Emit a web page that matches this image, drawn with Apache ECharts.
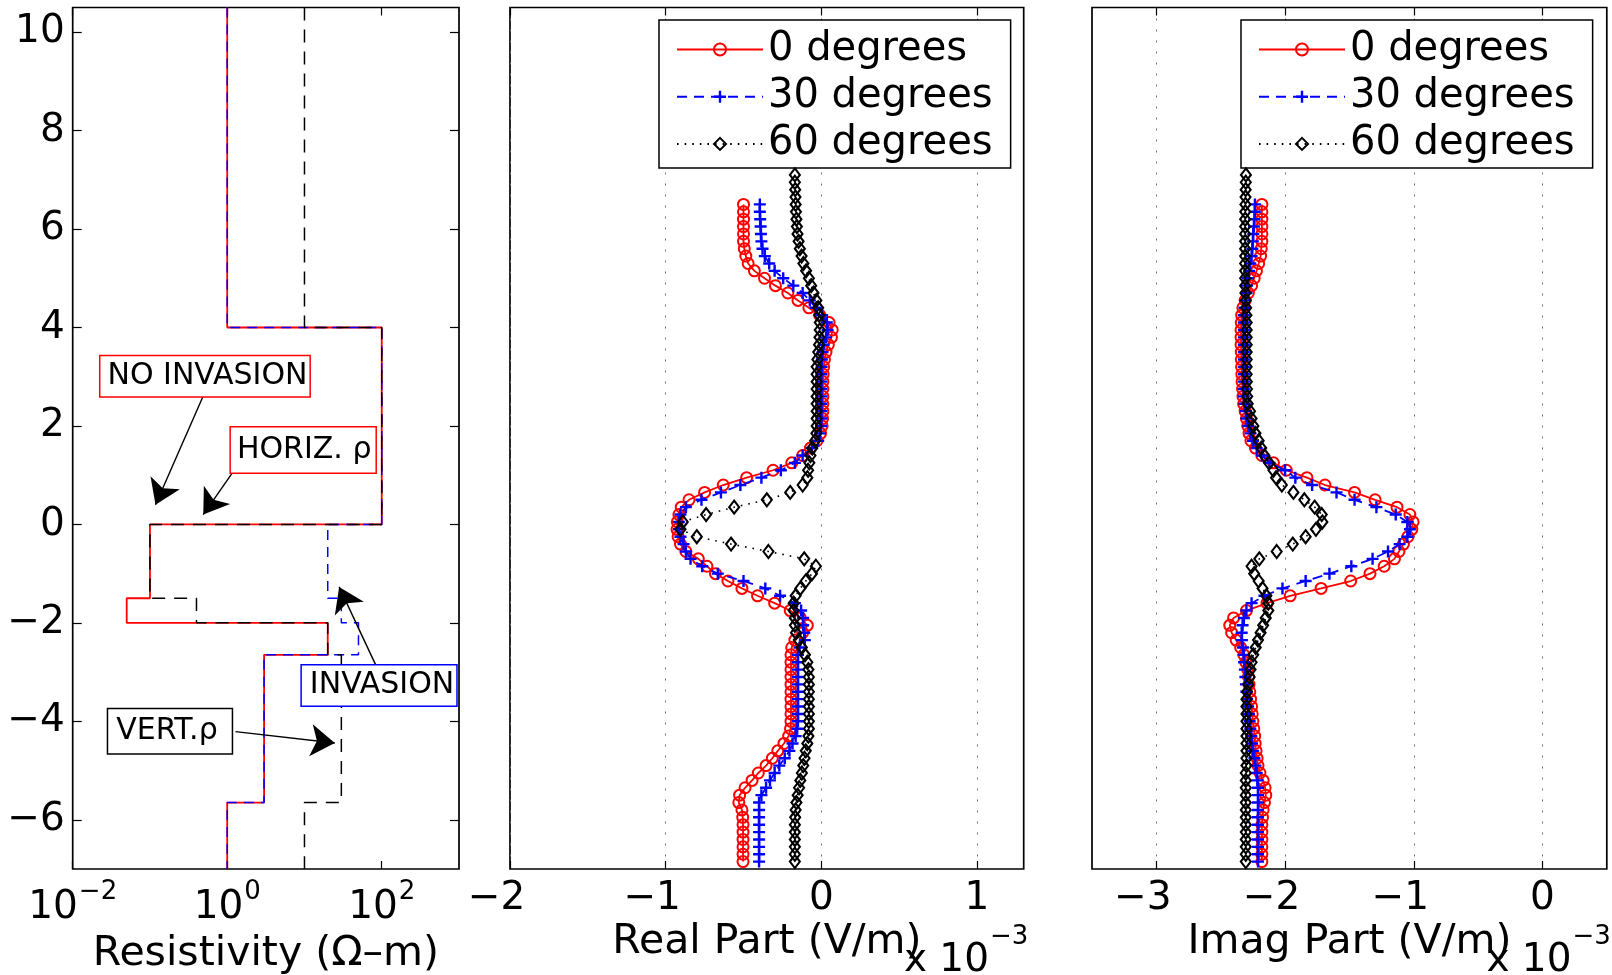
<!DOCTYPE html>
<html>
<head>
<meta charset="utf-8">
<script src="https://cdn.jsdelivr.net/npm/echarts@6/dist/echarts.min.js"></script>
<style>
html, body { margin: 0; padding: 0; background: #fff; }
#chart { width: 1612px; height: 975px; }
</style>
</head>
<body>
<div id="chart"></div>
<script>
// ---- Formation model: layer boundaries (depth) and resistivities (ohm-m) ----
const layerBounds = [10.5, 4, 0, -1.5, -2, -2.65, -5.65, -7];
const rhoHorizNoInvasion = [1, 100, 0.1, 0.05, 20, 3, 1];
const rhoHorizInvasion = [1, 100, 20, 30, 50, 3, 1];
const rhoVertical = [10, 100, 0.1, 0.4, 20, 30, 10];

// ---- Tool positions (depth) shared by all field profiles ----
const toolDepth = [
  7.1, 6.95, 6.8, 6.65, 6.5, 6.35, 6.2, 6.05, 5.9, 5.75,
  5.6, 5.45, 5.3, 5.15, 5.0, 4.85, 4.7, 4.55, 4.4, 4.25,
  4.1, 3.95, 3.8, 3.65, 3.5, 3.35, 3.2, 3.05, 2.9, 2.75,
  2.6, 2.45, 2.3, 2.15, 2.0, 1.85, 1.7, 1.55, 1.4, 1.25,
  1.1, 0.95, 0.8, 0.65, 0.5, 0.35, 0.2, 0.05, -0.1, -0.25,
  -0.4, -0.55, -0.7, -0.85, -1.0, -1.15, -1.3, -1.45, -1.6, -1.75,
  -1.9, -2.05, -2.2, -2.35, -2.5, -2.65, -2.8, -2.95, -3.1, -3.25,
  -3.4, -3.55, -3.7, -3.85, -4.0, -4.15, -4.3, -4.45, -4.6, -4.75,
  -4.9, -5.05, -5.2, -5.35, -5.5, -5.65, -5.8, -5.95, -6.1, -6.25,
  -6.4, -6.55, -6.7, -6.85
];

// ---- Real part of the field (x 1e-3 V/m) ----
const real0 = [
  null, null, null, null, -0.50, -0.50, -0.50, -0.50, -0.50, -0.50,
  -0.495, -0.485, -0.47, -0.43, -0.365, -0.295, -0.215, -0.15, -0.08, -0.01,
  0.05, 0.07, 0.065, 0.045, 0.03, 0.02, 0.015, 0.012, 0.01, 0.01,
  0.01, 0.01, 0.01, 0.008, 0.005, -0.005, -0.028, -0.07, -0.12, -0.19,
  -0.31, -0.48, -0.63, -0.75, -0.85, -0.90, -0.915, -0.925, -0.927, -0.92,
  -0.905, -0.87, -0.79, -0.735, -0.68, -0.60, -0.51, -0.41, -0.30, -0.20,
  -0.135, -0.09, -0.12, -0.17, -0.19, -0.195, -0.195, -0.195, -0.195, -0.195,
  -0.195, -0.195, -0.195, -0.195, -0.195, -0.198, -0.21, -0.24, -0.28, -0.315,
  -0.355, -0.405, -0.445, -0.49, -0.525, -0.53, -0.51, -0.505, -0.503, -0.503,
  -0.503, -0.503, -0.503, -0.503
];
const real30 = [
  null, null, null, null, -0.395, -0.395, -0.393, -0.39, -0.388, -0.385,
  -0.378, -0.363, -0.335, -0.30, -0.245, -0.18, -0.12, -0.074, -0.035, 0.005,
  0.035, 0.04, 0.03, 0.015, 0.008, 0.003, 0.002, 0.0, 0.0, 0.0,
  0.0, 0.0, 0.0, 0.0, -0.002, -0.008, -0.02, -0.06, -0.12, -0.17,
  -0.26, -0.385, -0.52, -0.645, -0.77, -0.87, -0.905, -0.915, -0.915, -0.905,
  -0.885, -0.87, -0.84, -0.765, -0.665, -0.50, -0.36, -0.265, -0.17, -0.13,
  -0.117, -0.117, -0.11, -0.106, -0.14, -0.15, -0.15, -0.15, -0.15, -0.15,
  -0.15, -0.15, -0.15, -0.15, -0.15, -0.155, -0.165, -0.185, -0.205, -0.235,
  -0.27, -0.30, -0.33, -0.355, -0.385, -0.40, -0.40, -0.40, -0.40, -0.40,
  -0.40, -0.40, -0.40, -0.40
];
const real60 = [
  -0.17, -0.17, -0.168, -0.166, -0.165, -0.163, -0.16, -0.157, -0.153, -0.146,
  -0.138, -0.127, -0.115, -0.098, -0.08, -0.065, -0.05, -0.032, -0.02, -0.014,
  -0.01, -0.01, -0.012, -0.015, -0.02, -0.025, -0.03, -0.03, -0.03, -0.03,
  -0.03, -0.03, -0.03, -0.03, -0.03, -0.032, -0.04, -0.058, -0.07, -0.077,
  -0.085, -0.09, -0.12, -0.20, -0.35, -0.56, -0.74, -0.89, -0.905, -0.80,
  -0.58, -0.34, -0.11, -0.035, -0.06, -0.10, -0.135, -0.165, -0.178, -0.178,
  -0.17, -0.17, -0.163, -0.145, -0.125, -0.105, -0.09, -0.083, -0.08, -0.08,
  -0.08, -0.08, -0.08, -0.08, -0.08, -0.08, -0.083, -0.09, -0.10, -0.108,
  -0.116, -0.125, -0.135, -0.143, -0.152, -0.16, -0.165, -0.168, -0.17, -0.17,
  -0.17, -0.17, -0.17, -0.17
];

// ---- Imaginary part of the field (x 1e-3 V/m) ----
const imag0 = [
  null, null, null, null, -2.18, -2.18, -2.18, -2.18, -2.18, -2.18,
  -2.185, -2.19, -2.205, -2.222, -2.24, -2.26, -2.285, -2.31, -2.328, -2.337,
  -2.34, -2.342, -2.342, -2.342, -2.34, -2.34, -2.338, -2.336, -2.334, -2.33,
  -2.327, -2.322, -2.31, -2.30, -2.29, -2.28, -2.265, -2.23, -2.18, -2.09,
  -1.99, -1.83, -1.69, -1.46, -1.30, -1.13, -1.03, -1.005, -1.015, -1.045,
  -1.08, -1.115, -1.15, -1.23, -1.34, -1.49, -1.72, -1.96, -2.14, -2.30,
  -2.40, -2.43, -2.415, -2.38, -2.345, -2.32, -2.305, -2.29, -2.284, -2.28,
  -2.274, -2.268, -2.26, -2.255, -2.25, -2.243, -2.236, -2.232, -2.225, -2.217,
  -2.21, -2.195, -2.17, -2.155, -2.15, -2.16, -2.17, -2.175, -2.18, -2.18,
  -2.18, -2.18, -2.18, -2.18
];
const imag30 = [
  null, null, null, null, -2.234, -2.235, -2.238, -2.242, -2.247, -2.25,
  -2.254, -2.26, -2.27, -2.28, -2.288, -2.295, -2.30, -2.31, -2.315, -2.32,
  -2.32, -2.32, -2.32, -2.32, -2.32, -2.32, -2.32, -2.32, -2.32, -2.32,
  -2.32, -2.315, -2.305, -2.30, -2.285, -2.268, -2.25, -2.22, -2.18, -2.12,
  -2.00, -1.92, -1.79, -1.60, -1.46, -1.29, -1.14, -1.05, -1.03, -1.05,
  -1.11, -1.20, -1.32, -1.485, -1.655, -1.84, -2.02, -2.16, -2.26, -2.30,
  -2.32, -2.33, -2.337, -2.335, -2.327, -2.322, -2.318, -2.312, -2.308, -2.304,
  -2.30, -2.295, -2.287, -2.28, -2.275, -2.27, -2.262, -2.256, -2.248, -2.238,
  -2.23, -2.22, -2.215, -2.21, -2.21, -2.21, -2.21, -2.21, -2.21, -2.21,
  -2.21, -2.21, -2.21, -2.21
];
const imag60 = [
  -2.304, -2.305, -2.306, -2.307, -2.308, -2.309, -2.31, -2.31, -2.31, -2.31,
  -2.31, -2.31, -2.31, -2.31, -2.31, -2.31, -2.308, -2.305, -2.302, -2.30,
  -2.298, -2.298, -2.298, -2.298, -2.298, -2.298, -2.298, -2.298, -2.297, -2.296,
  -2.294, -2.29, -2.272, -2.26, -2.246, -2.23, -2.205, -2.185, -2.16, -2.125,
  -2.09, -2.07, -2.025, -1.935, -1.85, -1.77, -1.715, -1.71, -1.76, -1.84,
  -1.94, -2.065, -2.20, -2.26, -2.24, -2.205, -2.175, -2.145, -2.13, -2.13,
  -2.15, -2.17, -2.19, -2.21, -2.228, -2.247, -2.26, -2.268, -2.275, -2.285,
  -2.295, -2.30, -2.30, -2.30, -2.30, -2.30, -2.30, -2.30, -2.30, -2.30,
  -2.30, -2.305, -2.305, -2.305, -2.305, -2.305, -2.305, -2.305, -2.305, -2.305,
  -2.305, -2.305, -2.305, -2.305
];

// ---- Names and tick labels ----
const seriesNames = ['0 degrees', '30 degrees', '60 degrees'];
const depthTicks = [-6, -4, -2, 0, 2, 4, 6, 8, 10];
const rhoTickExponents = [-2, 0, 2];
const realTicks = [-2, -1, 0, 1];
const imagTicks = [-3, -2, -1, 0];

// ---- Drawing ----
const FONT = 'DejaVu Sans';
const INK = '#000';
const RED = '#ff0000';
const BLUE = '#0000ff';
const TICK_FONT = 39;
const TITLE_FONT = 41;

// build a stepped depth profile from layer resistivities
function staircase(rhos) {
  const pts = [];
  rhos.forEach(function (r, i) {
    pts.push([r, layerBounds[i]]);
    pts.push([r, layerBounds[i + 1]]);
  });
  return pts;
}

// pair field values with tool depth, skipping positions without a reading
function profile(values) {
  const pts = [];
  values.forEach(function (v, i) {
    if (v !== null) pts.push([v, toolDepth[i]]);
  });
  return pts;
}

const signed = function (v) { return String(v).replace('-', '\u2212'); };
// negative numbers keep a little room on the right so the digit sits near the tick
const fieldLabel = function (v) {
  return v < 0 ? '{n|' + signed(v) + '}' : '{p|' + v + '}';
};
const fieldRich = {
  n: { fontSize: TICK_FONT, fontFamily: FONT, color: INK, padding: [0, 27, 0, 0] },
  p: { fontSize: TICK_FONT, fontFamily: FONT, color: INK }
};
const powerLabel = function (e) {
  return '{b|10}{s|' + (e < 0 ? '\u2212' : '') + Math.abs(e) + '}';
};
const powRich = {
  b: { fontSize: TICK_FONT, fontFamily: FONT, color: INK, lineHeight: 40 },
  s: { fontSize: 26, fontFamily: FONT, color: INK, lineHeight: 26, padding: [0, 0, 32, 1] }
};
const tickLine = { color: INK, width: 1.2 };
const labelStyle = { fontSize: TICK_FONT, fontFamily: FONT, color: INK };
const titleStyle = { fontSize: TITLE_FONT, fontFamily: FONT, color: INK };
const gridDots = { color: '#707070', width: 1, type: [2, 9] };
const noLine = { show: false, onZero: false };

function gridBox(left, width) {
  return {
    left: left, top: 7.5, width: width, height: 861.5,
    show: true, borderColor: INK, borderWidth: 1.7, backgroundColor: '#fff',
    containLabel: false, outerBoundsMode: 'none'
  };
}

function tickAxis(gridIndex, position, min, max, ticks, len) {
  return {
    type: 'value', gridIndex: gridIndex, position: position, min: min, max: max,
    axisLine: noLine, splitLine: { show: false }, axisLabel: { show: false },
    axisTick: { show: true, inside: true, length: len, customValues: ticks, lineStyle: tickLine }
  };
}

const annotations = [
  { text: 'NO INVASION', color: RED, box: [0.515, 3.01], pad: [4, 2, 4, 7],
    from: [0.515, 2.69], to: [0.118, 0.4] },
  { text: 'HORIZ. \u03C1', color: RED, box: [9.62, 1.51], pad: [6, 4, 7, 6],
    from: [1.32, 1.17], to: [0.49, 0.2] },
  { text: 'INVASION', color: BLUE, box: [92.3, -3.27], pad: [4, 2, 4, 8],
    from: [89.8, -2.96], to: [28.1, -1.27] },
  { text: 'VERT.\u03C1', color: INK, box: [0.1815, -4.2], pad: [6, 14, 6, 8],
    from: [1.28, -4.21], to: [24.7, -4.44] }
];

const markPointData = annotations.map(function (a) {
  return {
    coord: a.box, symbol: 'rect', symbolSize: 1, itemStyle: { color: 'rgba(0,0,0,0)' },
    label: {
      show: true, position: 'inside', formatter: a.text, color: INK,
      fontSize: 30, fontFamily: FONT, lineHeight: 32,
      backgroundColor: '#fff', borderColor: a.color, borderWidth: 1.5, padding: a.pad
    }
  };
});
const markLineData = annotations.map(function (a) {
  return [{ coord: a.from }, { coord: a.to }];
});

const plusSymbol = 'path://M4,0H6V4H10V6H6V10H4V6H0V4H4Z';
const fieldStyles = [
  { symbol: 'circle', symbolSize: 11,
    itemStyle: { color: 'rgba(255,0,0,0)', borderColor: RED, borderWidth: 2 },
    lineStyle: { color: RED, width: 1.8, type: 'solid' } },
  { symbol: plusSymbol, symbolSize: 12,
    itemStyle: { color: BLUE, borderWidth: 0 },
    lineStyle: { color: BLUE, width: 1.8, type: [10, 7] } },
  { symbol: 'diamond', symbolSize: [10, 13],
    itemStyle: { color: 'rgba(0,0,0,0)', borderColor: INK, borderWidth: 2.1 },
    lineStyle: { color: INK, width: 1.6, type: [1.6, 6] } }
];

function fieldSeries(k, values, xAxisIndex, yAxisIndex) {
  const st = fieldStyles[k];
  return {
    type: 'line', name: seriesNames[k], xAxisIndex: xAxisIndex, yAxisIndex: yAxisIndex,
    data: profile(values), symbol: st.symbol, symbolSize: st.symbolSize,
    showAllSymbol: true, itemStyle: st.itemStyle, lineStyle: st.lineStyle,
    emphasis: { disabled: true }, silent: true, z: 3 + k
  };
}

function legendAt(left) {
  return {
    data: seriesNames, orient: 'vertical', left: left, top: 20,
    padding: [9.5, 18, 4, 17], itemGap: 7.2, itemWidth: 86, itemHeight: 15,
    backgroundColor: '#fff', borderColor: INK, borderWidth: 1.5, borderRadius: 0,
    selectedMode: false, textStyle: { fontSize: 40, fontFamily: FONT, color: INK }
  };
}

function valueBottomAxis(gridIndex, min, max, ticks, title) {
  return {
    type: 'value', gridIndex: gridIndex, position: 'bottom', min: min, max: max,
    axisLine: noLine,
    axisTick: { show: true, inside: true, length: 8, customValues: ticks, lineStyle: tickLine },
    axisLabel: { customValues: ticks, margin: 10, formatter: fieldLabel, rich: fieldRich },
    splitLine: { show: true, lineStyle: gridDots },
    name: title, nameLocation: 'middle', nameGap: 53,
    nameMoveOverlap: false, nameTextStyle: titleStyle
  };
}

const option = {
  animation: false,
  backgroundColor: '#fff',
  textStyle: { fontFamily: FONT },
  grid: [gridBox(72.7, 386.3), gridBox(510, 513.7), gridBox(1092, 514.8)],
  xAxis: [
    // resistivity scale carrying the model profiles
    { type: 'log', logBase: 10, gridIndex: 0, min: 0.01, max: 1000, show: false, axisLine: noLine },
    // decade exponents for the resistivity ticks and labels
    {
      type: 'value', gridIndex: 0, position: 'bottom', min: -2, max: 3,
      axisLine: noLine, splitLine: { show: false },
      axisTick: { show: true, inside: true, length: 8, customValues: rhoTickExponents, lineStyle: tickLine },
      axisLabel: { customValues: rhoTickExponents, margin: 19, formatter: powerLabel, rich: powRich },
      name: 'Resistivity (\u03A9\u2013m)', nameLocation: 'middle', nameGap: 65,
      nameMoveOverlap: false, nameTextStyle: titleStyle
    },
    tickAxis(0, 'top', -2, 3, rhoTickExponents, 8),
    valueBottomAxis(1, -2, 1.3, realTicks, 'Real Part (V/m)'),
    tickAxis(1, 'top', -2, 1.3, realTicks, 8),
    valueBottomAxis(2, -3.5, 0.5, imagTicks, 'Imag Part (V/m)'),
    tickAxis(2, 'top', -3.5, 0.5, imagTicks, 8)
  ],
  yAxis: [
    {
      type: 'value', gridIndex: 0, position: 'left', min: -7, max: 10.5,
      axisLine: noLine, splitLine: { show: false },
      axisTick: { show: true, inside: true, length: 9, customValues: depthTicks, lineStyle: tickLine },
      axisLabel: Object.assign({ customValues: depthTicks, margin: 8, formatter: signed }, labelStyle)
    },
    tickAxis(0, 'right', -7, 10.5, depthTicks, 9),
    { type: 'value', gridIndex: 1, min: -7, max: 10.5, show: false, axisLine: noLine },
    { type: 'value', gridIndex: 2, min: -7, max: 10.5, show: false, axisLine: noLine }
  ],
  legend: [legendAt(659), legendAt(1241)],
  graphic: [
    { type: 'text', x: 989, y: 941, silent: true,
      style: { text: 'x 10', fontSize: TICK_FONT, fontFamily: FONT, fill: INK, align: 'right', verticalAlign: 'top' } },
    { type: 'text', x: 990, y: 924, silent: true,
      style: { text: '\u22123', fontSize: 26, fontFamily: FONT, fill: INK, align: 'left', verticalAlign: 'top' } },
    { type: 'text', x: 1571.5, y: 941, silent: true,
      style: { text: 'x 10', fontSize: TICK_FONT, fontFamily: FONT, fill: INK, align: 'right', verticalAlign: 'top' } },
    { type: 'text', x: 1572.5, y: 924, silent: true,
      style: { text: '\u22123', fontSize: 26, fontFamily: FONT, fill: INK, align: 'left', verticalAlign: 'top' } }
  ],
  series: [
    {
      type: 'line', name: 'horizontal, no invasion', xAxisIndex: 0, yAxisIndex: 0,
      data: staircase(rhoHorizNoInvasion), symbol: 'none',
      lineStyle: { color: RED, width: 1.8 }, emphasis: { disabled: true }, silent: true, z: 2,
      markPoint: { silent: true, animation: false, data: markPointData, z: 10 },
      markLine: {
        silent: true, animation: false, symbol: ['none', 'arrow'], symbolSize: 24,
        lineStyle: { color: INK, width: 1.4, type: 'solid' }, label: { show: false },
        emphasis: { disabled: true }, data: markLineData, z: 9
      }
    },
    {
      type: 'line', name: 'horizontal, invasion', xAxisIndex: 0, yAxisIndex: 0,
      data: staircase(rhoHorizInvasion), symbol: 'none',
      lineStyle: { color: BLUE, width: 1.5, type: [10, 7] }, emphasis: { disabled: true }, silent: true, z: 3
    },
    {
      type: 'line', name: 'vertical', xAxisIndex: 0, yAxisIndex: 0,
      data: staircase(rhoVertical), symbol: 'none',
      lineStyle: { color: INK, width: 1.5, type: [13, 9] }, emphasis: { disabled: true }, silent: true, z: 4
    },
    fieldSeries(0, real0, 3, 2),
    fieldSeries(1, real30, 3, 2),
    fieldSeries(2, real60, 3, 2),
    fieldSeries(0, imag0, 5, 3),
    fieldSeries(1, imag30, 5, 3),
    fieldSeries(2, imag60, 5, 3)
  ]
};

const chart = echarts.init(document.getElementById('chart'), null, { renderer: 'canvas' });
chart.setOption(option);
</script>
</body>
</html>
